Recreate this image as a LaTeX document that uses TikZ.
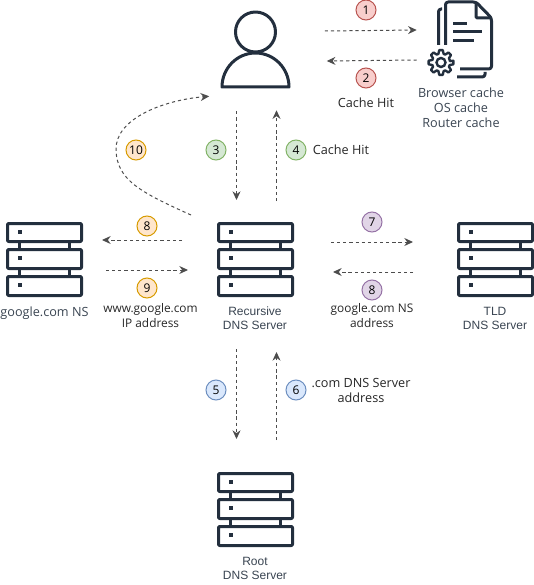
\documentclass[tikz,border=0pt]{standalone}
\usepackage{fontspec}
\setmainfont{Open Sans}
\newfontfamily\helvfont{Liberation Sans}
\definecolor{iconblue}{RGB}{35,47,62}
\definecolor{flowgray}{RGB}{77,77,77}
\definecolor{redfill}{HTML}{F8CECC}
\definecolor{redline}{HTML}{B85450}
\definecolor{greenfill}{HTML}{D5E8D4}
\definecolor{greenline}{HTML}{82B366}
\definecolor{bluefill}{HTML}{DAE8FC}
\definecolor{blueline}{HTML}{6C8EBF}
\definecolor{purplefill}{HTML}{E1D5E7}
\definecolor{purpleline}{HTML}{9673A6}
\definecolor{orangefill}{HTML}{FFE6CC}
\definecolor{orangeline}{HTML}{D79B00}
\usetikzlibrary{arrows.meta,calc}

\begin{document}
\begin{tikzpicture}[
  x=0.75pt,y=-0.75pt,
  flow/.style={-{Stealth[length=6.5pt,width=6pt]},flowgray,line width=0.75pt,dash pattern=on 2.4pt off 2.2pt},
  holder/.style={inner sep=0pt,outer sep=0pt,minimum width=57.75pt,minimum height=56.25pt},
  badge/.style={circle,draw,line width=0.75pt,inner sep=0pt,minimum size=15pt,font=\fontsize{9}{10}\selectfont},
  bred/.style={badge,fill=redfill,draw=redline},
  bgreen/.style={badge,fill=greenfill,draw=greenline},
  bblue/.style={badge,fill=bluefill,draw=blueline},
  bpurple/.style={badge,fill=purplefill,draw=purpleline},
  borange/.style={badge,fill=orangefill,draw=orangeline},
  note/.style={font=\fontsize{9.5}{11.3}\selectfont,align=center,text=black!85},
  cachenote/.style={note,text=iconblue!90},
  srvnote/.style={font=\helvfont\fontsize{9}{10.6}\selectfont,align=center,text=iconblue!90},
  icon/.style={draw=iconblue,line width=2.25pt,line join=round},
  pics/serverrack/.style={code={
    \foreach \top/\bot in {1.5/19.5,27.5/46.5,54.5/73.5} {
      \draw[icon,rounded corners=0.8pt] (1.5,\top) rectangle (75.5,\bot);
    }
    \foreach \row in {10,36,63} {
      \fill[iconblue] (11.5,\row-2) rectangle (15.5,\row+2);
    }
    \foreach \col in {13,63} {
      \draw[icon] (\col,19.5) -- (\col,27.5) (\col,46.5) -- (\col,54.5);
    }
  }}
]
  \useasboundingbox (0,0) rectangle (534,585);
  % Client and local caches
  \node[inner sep=0pt,minimum width=52.5pt,minimum height=57pt] (user) at (255.5,50) {};
  \node[inner sep=0pt,minimum width=42pt,minimum height=58.5pt] (cache) at (465,39) {};
  \draw[icon] (255.5,32) circle (20);
  \draw[icon] (222,87) arc (180:360:33.5 and 34) -- cycle;
  % Document with gear
  \draw[icon,rounded corners=2pt] (445.5,45) -- (445.5,2) -- (476,2) -- (491.5,18) -- (491.5,69) -- (460,69);
  \draw[icon,rounded corners=1pt] (476,2) -- (476,18) -- (491.5,18);
  \draw[icon,rounded corners=2pt] (438.5,45) -- (438.5,9) -- (442,9);
  \draw[icon,rounded corners=2pt] (457,77) -- (485,77) -- (485,72);
  \draw[icon] (453,23.5) -- (467,23.5) (453,32) -- (482,32) (453,41) -- (474,41);
  \begin{scope}[shift={(441,62.5)}]
    \draw[draw=iconblue,line width=1.8pt,line join=round,fill=white] (-9:9) \foreach \a in {0,45,...,315} {
      -- (\a-8:12.5) -- (\a+8:12.5) -- (\a+17:9) -- (\a+28:9)
    } -- cycle;
    \draw[draw=iconblue,line width=1.8pt] (0,0) circle (4.5);
  \end{scope}
  % Servers
  \node[holder] (rec) at (255.5,259.5) {};
  \node[holder] (gns) at (44.5,259.5) {};
  \node[holder] (tld) at (495.5,259.5) {};
  \node[holder] (root) at (255.5,509.5) {};
  \pic at (rec.north west) {serverrack};
  \pic at (gns.north west) {serverrack};
  \pic at (tld.north west) {serverrack};
  \pic at (root.north west) {serverrack};
  % Flows
  \draw[flow] ($(user.east)+(34,-19)$) -- ($(cache.west)+(-20,-9)$);
  \draw[flow] ($(cache.west)+(-20,21)$) -- ($(user.east)+(36,11)$);
  \draw[flow] ($(user.south)+(-19,23)$) -- ($(rec.north)+(-19,-22)$);
  \draw[flow] ($(rec.north)+(21,-21)$) -- ($(user.south)+(21,22)$);
  \draw[flow] ($(rec.south)+(-19,52)$) -- ($(root.north)+(-19,-33)$);
  \draw[flow] ($(root.north)+(21,-32)$) -- ($(rec.south)+(21,55)$);
  \draw[flow] ($(rec.east)+(37,-17.5)$) -- ($(tld.west)+(-44,-17.5)$);
  \draw[flow] ($(tld.west)+(-44,12.5)$) -- ($(rec.east)+(39,12.5)$);
  \draw[flow] ($(rec.west)+(-35,-19.5)$) -- ($(gns.east)+(19,-19.5)$);
  \draw[flow] ($(gns.east)+(23,10.5)$) -- ($(rec.west)+(-29,10.5)$);
  \draw[flow] ($(rec.north west)+(-26,-7)$) .. controls (140,192) and (117,180) .. (116,150)
    .. controls (115,118) and (165,100) .. ($(user.south west)+(-11,8)$);
  % Step numbers
  \node[bred] (n1) at (366,10) {1};
  \node[bred] (n2) at (366,78) {2};
  \node[bgreen] (n3) at (216,150) {3};
  \node[bgreen] (n4) at (296,150) {4};
  \node[bblue] (n5) at (216,390) {5};
  \node[bblue] (n6) at (296,390) {6};
  \node[bpurple] (n7) at (372,222) {7};
  \node[bpurple] (n8r) at (372,290) {8};
  \node[borange] (n8l) at (147,226) {8};
  \node[borange] (n9) at (147,288) {9};
  \node[borange] (n10) at (136,150) {10};
  % Labels
  \node[note] (hit1) at (366,103) {Cache Hit};
  \node[cachenote] (caches) at (461,108) {Browser cache\\OS cache\\Router cache};
  \node[note] (hit2) at (341,150) {Cache Hit};
  \node[cachenote] (gnslabel) at (44.5,313) {google.com NS};
  \node[note,font=\fontsize{8.9}{11.3}\selectfont] (wwwlabel) at (150.5,316) {www.google.com\\IP address};
  \node[srvnote] (reclabel) at (255,318) {Recursive\\DNS Server};
  \node[note,font=\fontsize{8.9}{11.3}\selectfont] (gnsaddr) at (372,316) {google.com NS\\address};
  \node[srvnote] (tldlabel) at (495,318) {TLD\\DNS Server};
  \node[note] (comaddr) at (361,390.5) {.com DNS Server\\address};
  \node[srvnote] (rootlabel) at (255,568) {Root\\DNS Server};
\end{tikzpicture}
\end{document}
